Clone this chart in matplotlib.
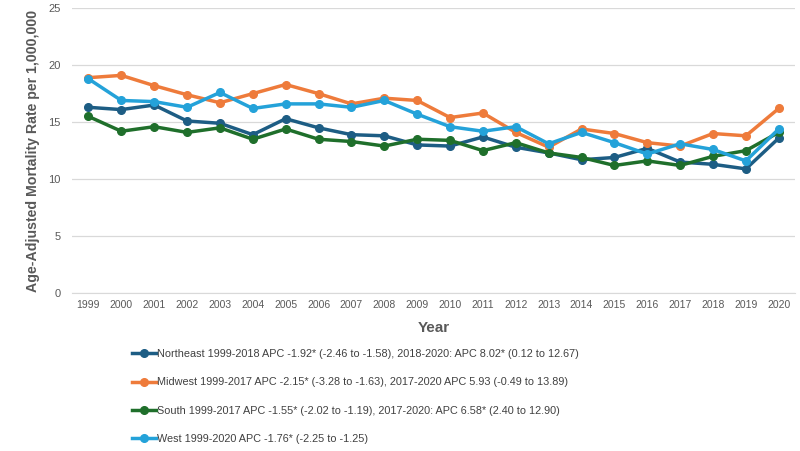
import matplotlib.pyplot as plt

years = list(range(1999, 2021))
northeast = [16.3, 16.1, 16.5, 15.1, 14.9, 13.9, 15.3, 14.5, 13.9, 13.8, 13.0,
             12.9, 13.7, 12.8, 12.3, 11.7, 11.9, 12.7, 11.5, 11.3, 10.9, 13.6]
midwest = [18.9, 19.1, 18.2, 17.4, 16.7, 17.5, 18.3, 17.5, 16.6, 17.1, 16.9,
           15.4, 15.8, 14.1, 12.8, 14.4, 14.0, 13.2, 12.9, 14.0, 13.8, 16.2]
south = [15.5, 14.2, 14.6, 14.1, 14.5, 13.5, 14.4, 13.5, 13.3, 12.9, 13.5,
         13.4, 12.5, 13.2, 12.3, 11.9, 11.2, 11.6, 11.2, 12.0, 12.5, 14.1]
west = [18.8, 16.9, 16.8, 16.3, 17.6, 16.2, 16.6, 16.6, 16.3, 16.9, 15.7,
        14.6, 14.2, 14.6, 13.1, 14.1, 13.2, 12.2, 13.1, 12.6, 11.6, 14.4]

labels = [
    "Northeast 1999-2018 APC -1.92* (-2.46 to -1.58), 2018-2020: APC 8.02* (0.12 to 12.67)",
    "Midwest 1999-2017 APC -2.15* (-3.28 to -1.63), 2017-2020 APC 5.93 (-0.49 to 13.89)",
    "South 1999-2017 APC -1.55* (-2.02 to -1.19), 2017-2020: APC 6.58* (2.40 to 12.90)",
    "West 1999-2020 APC -1.76* (-2.25 to -1.25)",
]
colors = ["#1d5d84", "#ee7b3b", "#1f6f2b", "#24a2d9"]

plt.rcParams['font.family'] = ['Liberation Sans', 'DejaVu Sans']

fig = plt.figure(figsize=(8, 4.51), dpi=100)
ax = fig.add_axes([0.09, 0.35, 0.904, 0.632])

for vals, lab, col in zip([northeast, midwest, south, west], labels, colors):
    ax.plot(years, vals, color=col, lw=2.5, marker="o", ms=5.5, label=lab)

ax.set_xlim(1998.5, 2020.5)
ax.set_ylim(0, 25)
ax.set_xticks(years)
ax.set_yticks([0, 5, 10, 15, 20, 25])
ax.tick_params(axis="x", length=0, labelsize=7.5, colors="#595959", pad=5)
ax.tick_params(axis="y", length=0, labelsize=8, colors="#595959", pad=8)
ax.grid(axis="y", color="#d9d9d9", lw=0.9)
ax.set_axisbelow(True)
for s in ["top", "right", "left"]:
    ax.spines[s].set_visible(False)
ax.spines["bottom"].set_color("#d9d9d9")

ax.set_ylabel("Age-Adjusted Mortality Rate per 1,000,000", fontsize=10.2,
              fontweight="bold", color="#595959", labelpad=6)
ax.set_xlabel("Year", fontsize=11, fontweight="bold", color="#595959", labelpad=8)

fig.legend(loc="upper left", bbox_to_anchor=(0.16, 0.236), frameon=False,
           handlelength=2.2, handletextpad=0.1, labelspacing=1.7,
           borderaxespad=0, prop={"size": 7.8}, labelcolor="#404040")

fig.savefig("out.png", dpi=100)
